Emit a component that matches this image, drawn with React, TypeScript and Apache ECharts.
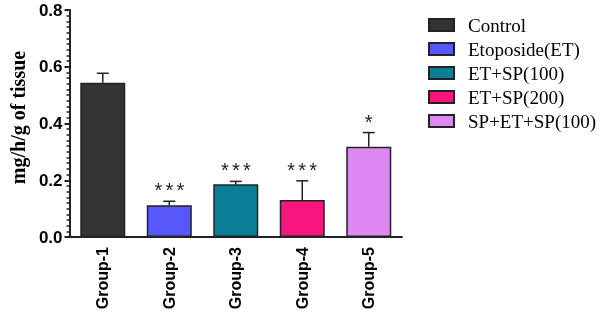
import React, { useEffect, useRef } from "react";
import * as echarts from "echarts";

const categories = ["Group-1", "Group-2", "Group-3", "Group-4", "Group-5"];
const seriesNames = ["Control", "Etoposide(ET)", "ET+SP(100)", "ET+SP(200)", "SP+ET+SP(100)"];
const means = [0.544, 0.112, 0.186, 0.13, 0.318];
const errors = [0.033, 0.014, 0.01, 0.068, 0.05];
const significance = ["", "***", "***", "***", "*"];
const colors = ["#333333", "#5757fa", "#0a7e95", "#f5177e", "#dd88f3"];
const yTicks = { min: 0, max: 0.8, interval: 0.2 };

export default function App() {
  const ref = useRef<HTMLDivElement>(null);
  useEffect(() => {
    if (!ref.current) return;
    const chart = echarts.init(ref.current, null, { renderer: "svg" });

    const barSeries = seriesNames.map((name, i) => ({
      name,
      type: "bar",
      stack: "g",
      barWidth: 45,
      data: categories.map((_, j) => (j === i ? means[i] : "-")),
      itemStyle: { color: colors[i], borderColor: "#222", borderWidth: 1.5 },
    }));

    const errData = categories.map((_, i) => [i, means[i], means[i] + errors[i], significance[i]]);

    const errSeries = {
      type: "custom",
      name: "err",
      data: errData,
      z: 5,
      renderItem: (params: any, api: any) => {
        const idx = api.value(0);
        const lo = api.coord([idx, api.value(1)]);
        const hi = api.coord([idx, api.value(2)]);
        const sig = String(errData[params.dataIndex][3] || "");
        const cap = 6;
        const style = { stroke: "#222", lineWidth: 1.5 };
        const children: any[] = [
          { type: "line", shape: { x1: lo[0], y1: lo[1], x2: hi[0], y2: hi[1] }, style },
          { type: "line", shape: { x1: hi[0] - cap, y1: hi[1], x2: hi[0] + cap, y2: hi[1] }, style },
        ];
        const n = sig.length;
        for (let k = 0; k < n; k++) {
          children.push({
            type: "text",
            x: hi[0] + (k - (n - 1) / 2) * 11,
            y: hi[1] - 11,
            style: {
              text: "*",
              fontSize: 20,
              fontFamily: "Liberation Sans",
              fill: "#222",
              align: "center",
              verticalAlign: "middle",
            },
          });
        }
        return { type: "group", children };
      },
    };

    chart.setOption({
      animation: false,
      grid: { left: 62, right: 198, top: 10, bottom: 81, containLabel: false },
      legend: {
        data: seriesNames,
        orient: "vertical",
        left: 428,
        top: 15,
        padding: 0,
        icon: "rect",
        itemWidth: 25,
        itemHeight: 12,
        itemGap: 4,
        textStyle: {
          fontFamily: "Liberation Serif",
          fontSize: 19,
          color: "#000",
          lineHeight: 20,
          padding: [0, 0, 0, 9],
        },
      },
      xAxis: {
        type: "category",
        data: categories,
        axisLine: { lineStyle: { color: "#222", width: 2 } },
        axisTick: { alignWithLabel: true, length: 5, lineStyle: { color: "#222", width: 2 } },
        axisLabel: {
          rotate: 90,
          margin: 10,
          fontFamily: "Liberation Sans",
          fontWeight: "bold",
          fontSize: 16,
          color: "#000",
        },
      },
      yAxis: {
        type: "value",
        min: yTicks.min,
        max: yTicks.max,
        interval: yTicks.interval,
        name: "mg/h/g of tissue",
        nameLocation: "middle",
        nameGap: 35,
        nameTextStyle: {
          fontFamily: "Liberation Serif",
          fontWeight: "bold",
          fontSize: 20,
          color: "#000",
          padding: [0, 0, 0, 12],
        },
        axisLine: { show: true, lineStyle: { color: "#222", width: 2 } },
        axisTick: { show: true, length: 5, lineStyle: { color: "#222", width: 2 } },
        minorTick: { show: true, splitNumber: 10, length: 3, lineStyle: { color: "#222", width: 1.5 } },
        splitLine: { show: false },
        axisLabel: {
          formatter: (v: number) => v.toFixed(1),
          margin: 7,
          fontFamily: "Liberation Sans",
          fontWeight: "bold",
          fontSize: 17,
          color: "#000",
        },
      },
      series: [...barSeries, errSeries],
    });
    return () => chart.dispose();
  }, []);
  return <div ref={ref} style={{ position: "fixed", left: 0, top: 0, width: 600, height: 318 }} />;
}
